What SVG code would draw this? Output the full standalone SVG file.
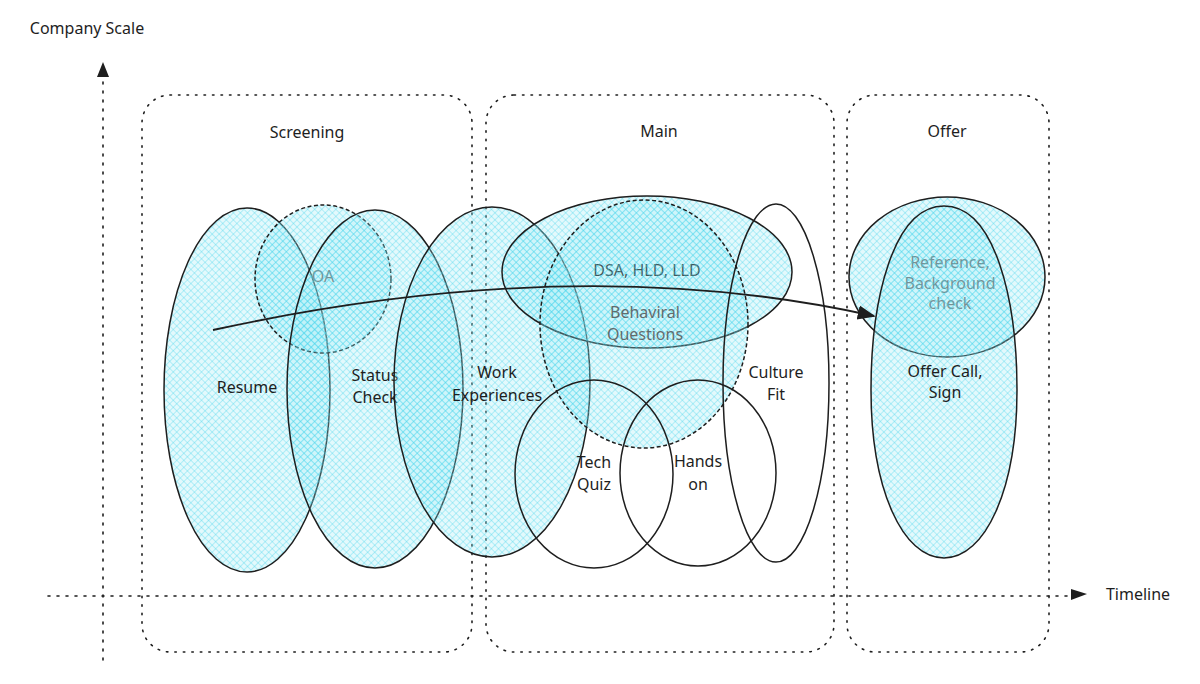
<svg xmlns="http://www.w3.org/2000/svg" width="1200" height="684" viewBox="0 0 1200 684">
<defs>
<pattern id="hatch" width="5" height="5" patternUnits="userSpaceOnUse" patternTransform="rotate(45)">
<rect width="5" height="5" fill="#99e9f2" fill-opacity="0.28"/>
<line x1="0" y1="0" x2="0" y2="5" stroke="#3fd3ea" stroke-width="1.2" stroke-opacity="0.55"/>
<line x1="0" y1="0" x2="5" y2="0" stroke="#3fd3ea" stroke-width="1.2" stroke-opacity="0.55"/>
</pattern>
<marker id="ah2" viewBox="0 0 10 10" refX="9" refY="5" markerWidth="18" markerHeight="18" markerUnits="userSpaceOnUse" orient="auto">
<path d="M0,1 L10,5 L0,9 Z" fill="#1e1e1e"/>
</marker>
</defs>
<style>
.frame{fill:none;stroke:#1e1e1e;stroke-width:1.6;stroke-dasharray:1.5 7;stroke-linecap:round}
.axis{fill:none;stroke:#1e1e1e;stroke-width:1.6;stroke-dasharray:2 7;stroke-linecap:round}
.f{fill:url(#hatch);stroke:#1e1e1e;stroke-width:1.5}
.o{fill:none;stroke:#1e1e1e;stroke-width:1.5}
.d{stroke-dasharray:4 2.5}
text{font-family:"Noto Sans","Liberation Sans",sans-serif;font-size:16px;fill:#1e1e1e;text-anchor:middle}
.light{fill:#555;opacity:0.85}
</style>
<rect width="1200" height="684" fill="#ffffff"/>

<g id="axes">
<line class="axis" x1="103" y1="660" x2="103" y2="78"/>
<path d="M97,77 L103,62 L109,77 Z" fill="#1e1e1e"/>
<line class="axis" x1="48" y1="596" x2="1072" y2="596"/>
<path d="M1071,589 L1087,594 L1071,600 Z" fill="#1e1e1e"/>
<text x="87" y="34">Company Scale</text>
<text x="1138" y="600">Timeline</text>
</g>

<g id="frame-screening">
<rect class="frame" x="142" y="95" width="330" height="557" rx="28"/>
<text x="307" y="138">Screening</text>
</g>
<g id="frame-main">
<rect class="frame" x="486" y="95" width="348" height="557" rx="28"/>
<text x="659" y="137">Main</text>
</g>
<g id="frame-offer">
<rect class="frame" x="847" y="95" width="202" height="557" rx="28"/>
<text x="947" y="137">Offer</text>
</g>

<g id="resume">
<ellipse class="f" cx="247" cy="390" rx="83" ry="182"/>
<text x="247" y="393">Resume</text>
</g>
<g id="oa">
<ellipse class="f d" cx="323" cy="279" rx="68" ry="74"/>
<text class="light" x="323" y="282">OA</text>
</g>
<g id="status-check">
<ellipse class="f" cx="375" cy="389" rx="88" ry="179"/>
<text x="375" y="381">Status</text>
<text x="375" y="403">Check</text>
</g>
<g id="work-experiences">
<ellipse class="f" cx="492" cy="382" rx="98" ry="175"/>
<text x="497" y="378">Work</text>
<text x="497" y="401">Experiences</text>
</g>
<g id="dsa">
<ellipse class="f" cx="647" cy="272" rx="145" ry="76"/>
<text x="647" y="276">DSA, HLD, LLD</text>
</g>
<g id="behavioral">
<ellipse class="f d" cx="644" cy="324" rx="104" ry="124"/>
<text class="light" x="645" y="318">Behaviral</text>
<text class="light" x="645" y="340">Questions</text>
</g>
<g id="tech-quiz">
<ellipse class="o" cx="594" cy="474" rx="79" ry="94"/>
<text x="594" y="468">Tech</text>
<text x="594" y="490">Quiz</text>
</g>
<g id="hands-on">
<ellipse class="o" cx="698" cy="473" rx="78" ry="93"/>
<text x="698" y="467">Hands</text>
<text x="698" y="490">on</text>
</g>
<g id="culture-fit">
<ellipse class="o" cx="776" cy="383" rx="53" ry="179"/>
<text x="776" y="378">Culture</text>
<text x="776" y="400">Fit</text>
</g>
<g id="reference">
<ellipse class="f" cx="947" cy="277" rx="98" ry="80"/>
<text class="light" x="950" y="268">Reference,</text>
<text class="light" x="950" y="289">Background</text>
<text class="light" x="950" y="309">check</text>
</g>
<g id="offer-call">
<path class="f" d="M944,206 C995,206 1017,300 1017,390 C1017,490 985,558 944,558 C903,558 871,490 871,390 C871,300 893,206 944,206 Z"/>
<text x="945" y="377">Offer Call,</text>
<text x="945" y="398">Sign</text>
</g>

<g id="connectors">
<path d="M213,330 Q580,250 874,316" fill="none" stroke="#1e1e1e" stroke-width="1.8" marker-end="url(#ah2)"/>
</g>
</svg>
